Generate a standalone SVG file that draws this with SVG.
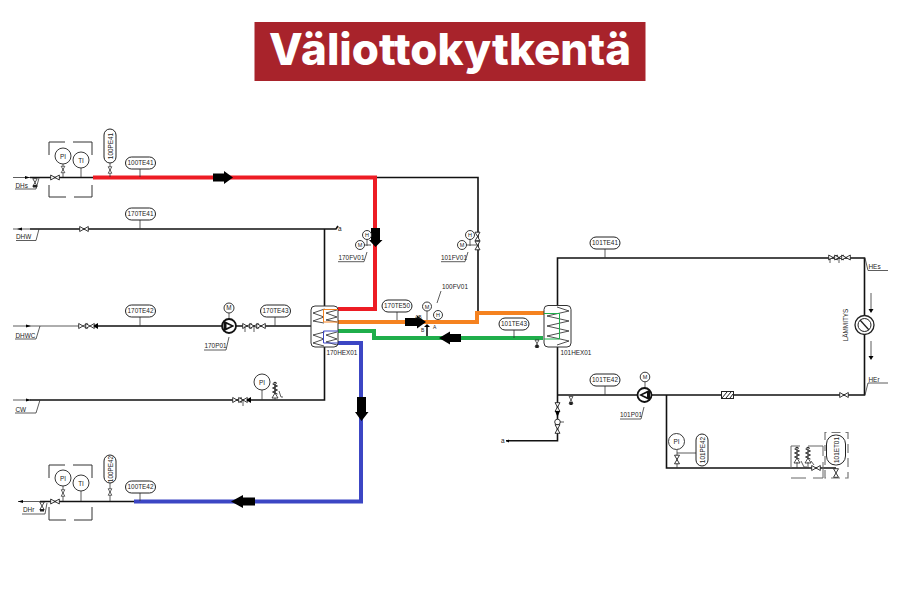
<svg xmlns="http://www.w3.org/2000/svg" width="900" height="600" viewBox="0 0 900 600">
<style>
text{font-family:"Liberation Sans",Arial,sans-serif;font-size:6.4px;fill:#222}
.m{text-anchor:middle}
.tag{fill:#fff;stroke:#222;stroke-width:1}
.p{fill:none;stroke:#111;stroke-width:1.6}
.t{fill:none;stroke:#333;stroke-width:.8}
.d{fill:none;stroke:#333;stroke-width:1}
.c{fill:#fff;stroke:#222;stroke-width:.9}
.hex{fill:#fff;stroke:#333;stroke-width:1}
.z{fill:none;stroke:#222;stroke-width:.8}
.red{fill:none;stroke:#ed1c24;stroke-width:4}
.org{fill:none;stroke:#f58220;stroke-width:4}
.grn{fill:none;stroke:#1fae4b;stroke-width:4}
.blu{fill:none;stroke:#3c46c4;stroke-width:4}
.ar{fill:#000}
</style>
<defs>
<g id="vh"><path d="M-4.300-2.500 0 0-4.300 2.500ZM4.300-2.500 0 0 4.300 2.500Z" fill="#fff" stroke="#222" stroke-width=".9"/></g>
<g id="vv"><path d="M-2.500-4.300 0 0 2.500-4.300ZM-2.500 4.300 0 0 2.500 4.300Z" fill="#fff" stroke="#222" stroke-width=".9"/></g>
<g id="sv"><path d="M0 8V-8M-2.500-6 2.500-4-2.500-2 2.500 0-2.500 2 2.500 4" fill="none" stroke="#222" stroke-width=".9"/><path d="M-3 8 0 3 3 8Z" fill="#fff" stroke="#222" stroke-width=".8"/><path d="M-2-6.500 0-8 2-6.500" fill="none" stroke="#222"/></g>
<g id="pump"><circle r="7" fill="#fff" stroke="#111" stroke-width="1.800"/><path d="M-5.500-5.500 5.500 0-5.500 5.500Z" fill="#111"/><path d="M-2.500-2 2 0-2.500 2Z" fill="#fff"/></g>
</defs>

<g id="title"><rect x="254.500" y="22" width="391" height="59" fill="#a8232b"/><text x="450" y="65" text-anchor="middle" style="font-family:Inter,sans-serif;font-size:44px;font-weight:800;fill:#fff" textLength="362" lengthAdjust="spacingAndGlyphs">Väliottokytkentä</text></g>

<g id="connectors">
<path class="t" d="M13 177.500H30M18 501.500H40M13 229H30M13 326H80M13 400H30"/>
<path class="p" d="M30 177.500H93M376 177.500H478V313"/>
<path class="p" d="M30 229H336L338 226M324.500 229V400H30M96 326H311"/>
<path class="p" d="M40 501.500H134"/>
<path class="p" d="M557.500 305V258H864.500V395H557.500V347M557.500 395V440.700H506"/>
<path class="p" d="M666.500 395V468H836"/>
<path class="t" d="M871 293V309M871 341V357"/>
<path class="ar" d="M868.500 309H873.500L871 313ZM868.500 356H873.500L871 360ZM31 326l-5-1.500v3ZM31 400l-5-1.500v3ZM30 177.500l-5-1.500v3ZM17 229l5-1.500v3ZM18 501.500l5-1.500v3ZM506 441l3-1.500v3Z"/>
<path d="M15 189H36L39 178M16 240.500H36L39 229M15 339H36L40 326M15 413H36L40 400M22 514H45L47 503M888 270.500H868L865 258M888 383H868L865 395" class="t"/>
<path class="red" d="M93 177.500H375V309H338"/>
<path class="org" d="M338 322H477V313H545"/>
<path class="grn" d="M338 331H374V338H543"/>
<path class="blu" d="M338 343H361V501.500H134"/>
<path class="ar" d="M213 173.500H224V171L233 177.500 224 184V181.500H213ZM371 228H380V240H382.500L375.500 247 369 240H371ZM405 318H417V315.500L426 322 417 328.500V326H405ZM461 334H450V331.500L439 338 450 344.500V342H461ZM357 397H366V412H368.500L361.500 421 355 412H357ZM255 497.500H243V495L231 501.500 243 508V505.500H255Z"/>
</g>

<g id="n-100in">
<path class="d" d="M49 155V142H65M73 142H92V155M92 185V197H74M66 197H49V185"/>
<use href="#vh" x="55" y="177.500"/>
<path class="t" d="M63 164V177M81 168V177M110 163V177"/>
<circle class="c" cx="63" cy="156" r="8"/><text class="m" x="63" y="158.500">PI</text>
<circle class="c" cx="81" cy="160" r="8"/><text class="m" x="81" y="162.500">TI</text>
<use href="#vv" transform="translate(63 169.500) scale(.75)"/>
<rect class="tag" x="104" y="129" width="12" height="34" rx="6"/><text class="m" transform="translate(112.500 146) rotate(-90)">100PE41</text>
<use href="#vv" transform="translate(110 170) scale(.75)"/>
<path class="t" d="M140 169V177"/><rect class="tag" x="125.500" y="157" width="30" height="12" rx="6"/><text class="m" x="140.500" y="165.300">100TE41</text>
<use href="#vv" transform="translate(35 182.500) scale(.9)"/><rect x="33" y="185" width="4" height="2.500" fill="#222"/>
<text x="15.500" y="187.500">DHs</text>
</g>

<g id="n-dhw">
<use href="#vh" x="84" y="229"/>
<path class="t" d="M140 220V229"/><rect class="tag" x="125.500" y="208" width="30" height="12" rx="6"/><text class="m" x="140.500" y="216.300">170TE41</text>
<text x="16" y="238.500">DHW</text><text x="338" y="231">a</text>
</g>

<g id="n-dhwc">
<use href="#vh" x="83" y="326"/><use href="#vh" x="90" y="326"/><path class="ar" d="M93 326l5-3v6Z"/>
<path class="t" d="M140 317V326"/><rect class="tag" x="125.500" y="305" width="30" height="12" rx="6"/><text class="m" x="140.500" y="313.300">170TE42</text>
<path class="t" d="M229 313V319"/><circle class="c" cx="229" cy="308" r="5"/><text class="m" x="229" y="310.200">M</text>
<use href="#pump" x="229" y="326"/>
<text x="204.500" y="348">170P01</text><path class="t" d="M204 350H226L229 337"/>
<use href="#vh" x="247" y="326"/><use href="#vh" x="254" y="326"/><use href="#vh" x="261" y="326"/>
<path class="t" d="M245 326V332M254 326V332"/>
<path class="t" d="M275 317V326"/><rect class="tag" x="260.500" y="305" width="30" height="12" rx="6"/><text class="m" x="275.500" y="313.300">170TE43</text>
<text x="15.500" y="337.500">DHWC</text>
</g>

<g id="n-cw">
<use href="#vh" x="237" y="400"/><use href="#vh" x="243" y="400"/><path class="ar" d="M246 400l5-3v6Z"/>
<path class="t" d="M243 400V406M262 390V400M275 400V384"/>
<circle class="c" cx="262" cy="382" r="8"/><text class="m" x="262" y="384.500">PI</text>
<use href="#sv" x="275" y="390"/>
<path class="t" d="M279 391 281 397H283"/>
<text x="15.500" y="411.500">CW</text>
</g>

<g id="n-170HEX01">
<rect class="hex" x="311" y="306" width="27" height="41" rx="4"/>
<path class="z" d="M324.500 309 313 313 324 317 313 321 324 323M324.500 332 313 335 324 339 313 343 324 346M337 310 326 313 337 317 326 320 337 322M337 332 326 335 337 339 326 342 337 345"/>
<path d="M338 309.500H323.500V322H338" fill="none" stroke="#f58220"/>
<path d="M338 331H323.500V343H338" fill="none" stroke="#3c46c4"/>
<text x="326.500" y="355">170HEX01</text>
</g>

<g id="n-170FV01">
<path class="t" d="M367 239V246M364 245H371"/>
<circle class="c" cx="367" cy="235" r="4.500"/><text class="m" x="367" y="237.200" style="font-size:5.500px">H</text>
<circle class="c" cx="360" cy="245" r="4.500"/><text class="m" x="360" y="247.200" style="font-size:5.500px">M</text>
<text x="338.500" y="259.500">170FV01</text><path class="t" d="M338 261.700H364L367 252"/>
</g>

<g id="n-101FV01">
<path class="t" d="M470 239V246M466 245H477"/>
<circle class="c" cx="470" cy="235" r="4.500"/><text class="m" x="470" y="237.200" style="font-size:5.500px">H</text>
<circle class="c" cx="462" cy="245" r="4.500"/><text class="m" x="462" y="247.200" style="font-size:5.500px">M</text>
<use href="#vv" x="477.500" y="236.500"/><use href="#vv" x="477.500" y="245.500"/>
<text x="441" y="259.500">101FV01</text><path class="t" d="M441 261.700H465L468 252"/>
</g>

<g id="n-100FV01">
<path class="t" d="M397 312V320M427 311V320"/>
<rect class="tag" x="382" y="300" width="30" height="12" rx="6"/><text class="m" x="397" y="308.300">170TE50</text>
<circle class="c" cx="427" cy="306.500" r="4.500"/><text class="m" x="427" y="308.700" style="font-size:5.500px">M</text>
<circle class="c" cx="438" cy="315" r="4.500"/><text class="m" x="438" y="317.200" style="font-size:5.500px">H</text>
<text x="442" y="289">100FV01</text><path class="t" d="M441 291 437 303"/>
<path class="p" d="M427 326V336"/><path class="ar" d="M424 327H430L427 324Z"/>
<text x="415" y="319" style="font-size:5px">AB</text><text x="421" y="332" style="font-size:5px">B</text><text x="433" y="329" style="font-size:5px">A</text>
</g>

<g id="n-101HEX01">
<path class="t" d="M514 330V338"/><rect class="tag" x="499" y="318" width="30" height="12" rx="6"/><text class="m" x="514" y="326.300">101TE43</text>
<use href="#vv" transform="translate(537 343.500) scale(.8)"/><rect x="535.500" y="345" width="3" height="3" fill="#222"/>
<rect class="hex" x="544" y="305.500" width="27" height="41.500" rx="4"/>
<path class="z" d="M557 307 569 311 547 316 569 321 547 326 569 331 547 336 569 341 557 345"/>
<path d="M544 313.500H559.500V339H544" fill="none" stroke="#1fae4b"/>
<text x="560.500" y="354.500">101HEX01</text>
</g>

<g id="n-101out">
<path class="t" d="M605 249V258"/><rect class="tag" x="590" y="237" width="30" height="12" rx="6"/><text class="m" x="605" y="245.300">101TE41</text>
<use href="#vh" x="833" y="257.500"/><use href="#vh" x="839" y="257.500"/><use href="#vh" x="846" y="257.500"/>
<path class="t" d="M830 258V263M839 258V263"/>
<text x="868.500" y="269">HEs</text><text x="868.500" y="381.500">HEr</text>
<circle cx="864.500" cy="325" r="9.500" fill="#fff" stroke="#222" stroke-width="1.300"/><circle cx="864.500" cy="325" r="6.500" fill="#fff" stroke="#222" stroke-width="1"/><path d="M860 320 869 330" stroke="#222" stroke-width="1.300"/>
<text class="m" transform="translate(848 325) rotate(-90)">LÄMMITYS</text>
<use href="#vh" x="844" y="395"/>
</g>

<g id="n-101ret">
<use href="#vv" transform="translate(571 400) scale(.8)"/><rect x="569.500" y="402" width="3" height="3" fill="#222"/>
<path class="t" d="M605 386V395"/><rect class="tag" x="590" y="374" width="30" height="12" rx="6"/><text class="m" x="605" y="382.300">101TE42</text>
<path class="t" d="M645 382V388"/><circle class="c" cx="645" cy="377" r="4.800"/><text class="m" x="645" y="379.200" style="font-size:5.500px">M</text>
<g transform="translate(644.500 395) rotate(180)"><use href="#pump"/></g>
<text x="620" y="417">101P01</text><path class="t" d="M620 419H641L644 407"/>
<rect x="721.500" y="391.500" width="12" height="7" fill="#fff" stroke="#222"/><path d="M722 398 727 392M726 398 731 392M730 398 733 394" stroke="#222" stroke-width="1"/>
<use href="#vv" x="557.500" y="407"/><path class="ar" d="M555 411H560L557.500 417Z"/><circle class="c" cx="557.500" cy="422" r="2.800"/><path class="t" d="M560 422H564"/><use href="#vv" x="557.500" y="429"/>
<text x="501" y="443">a</text>
</g>

<g id="n-101exp">
<path class="t" d="M677 450V468M677 453H696"/>
<circle class="c" cx="676.500" cy="441.500" r="8"/><text class="m" x="676.500" y="444">PI</text>
<use href="#vv" x="677" y="459.500"/>
<rect class="tag" x="696" y="434" width="12" height="32" rx="6"/><text class="m" transform="translate(704.500 450) rotate(-90)">101PE42</text>
<path d="M791 468V446H800M808 446H823V456M823 462V478H813M806 478H791" fill="none" stroke="#666" stroke-width="1"/>
<use href="#sv" x="797" y="455"/><use href="#sv" x="808" y="455"/>
<path class="t" d="M797 462V468M808 462V468M801 461 804 467H807M811 461 814 465"/>
<use href="#vh" x="816" y="468"/>
<path d="M825 440V432.500H848V478H825V445" fill="none" stroke="#777" stroke-width="1.200" stroke-dasharray="9 5"/>
<rect class="tag" x="826.500" y="435" width="19" height="30" rx="9"/><text class="m" transform="translate(838.500 450) rotate(-90)">101ET01</text>
<use href="#vv" x="836" y="473"/>
</g>

<g id="n-100out">
<path class="d" d="M49 478V465H65M73 465H92V478M92 507V520H74M66 520H49V507"/>
<use href="#vh" x="55" y="501.500"/>
<path class="t" d="M63 486V501M81 491V501M110 483V501"/>
<circle class="c" cx="63" cy="478" r="8"/><text class="m" x="63" y="480.500">PI</text>
<circle class="c" cx="81" cy="483" r="8"/><text class="m" x="81" y="485.500">TI</text>
<use href="#vv" transform="translate(63 493) scale(.75)"/>
<rect class="tag" x="104" y="455" width="12" height="28" rx="6"/><text class="m" transform="translate(112.500 469) rotate(-90)">100PE42</text>
<use href="#vv" transform="translate(110 492) scale(.75)"/>
<path class="t" d="M140 493V501"/><rect class="tag" x="125.500" y="481" width="30" height="12" rx="6"/><text class="m" x="140.500" y="489.300">100TE42</text>
<use href="#vv" transform="translate(42 506) scale(.9)"/><rect x="40" y="509" width="4" height="2.500" fill="#222"/>
<text x="23" y="512">DHr</text>
</g>
</svg>
